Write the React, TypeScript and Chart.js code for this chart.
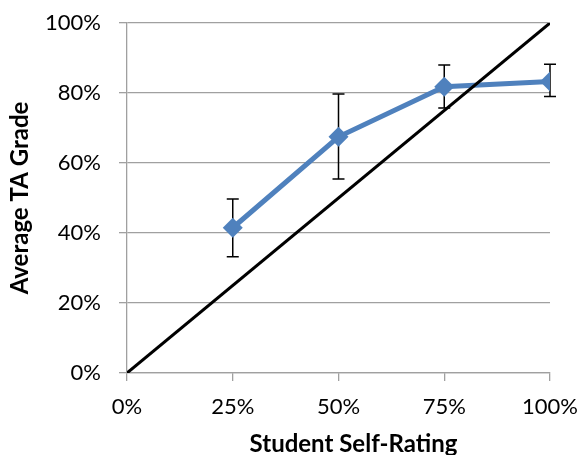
import React, { useEffect, useRef } from "react";
import { Chart, registerables } from "chart.js";

Chart.register(...registerables);

const selfRating = [0.25, 0.5, 0.75, 1.0];
const avgGrade = [0.415, 0.675, 0.818, 0.833];
const errHigh = [0.497, 0.797, 0.88, 0.882];
const errLow = [0.332, 0.554, 0.757, 0.79];
const diagonalX = [0, 1];
const diagonalY = [0, 1];
const xTicks = [0, 0.25, 0.5, 0.75, 1];
const xTitle = "Student Self-Rating";
const yTitle = "Average TA Grade";

const FONT = "Lato, 'Open Sans', sans-serif";
const GRID = "#a0a0a0";

const errorBarPlugin = {
  id: "errorBars",
  beforeDatasetsDraw(chart: any) {
    const { ctx, scales } = chart;
    const xs = scales.x;
    const ys = scales.y;
    ctx.save();
    ctx.strokeStyle = "#000";
    ctx.lineWidth = 1.5;
    selfRating.forEach((xv, i) => {
      const px = xs.getPixelForValue(xv);
      const top = ys.getPixelForValue(errHigh[i]);
      const bot = ys.getPixelForValue(errLow[i]);
      ctx.beginPath();
      ctx.moveTo(px, top);
      ctx.lineTo(px, bot);
      ctx.moveTo(px - 6, top);
      ctx.lineTo(px + 6, top);
      ctx.moveTo(px - 6, bot);
      ctx.lineTo(px + 6, bot);
      ctx.stroke();
    });
    ctx.restore();
  },
};

const titlePlugin = {
  id: "axisTitles",
  afterDraw(chart: any) {
    const { ctx, chartArea } = chart;
    ctx.save();
    ctx.fillStyle = "#000";
    ctx.font = `bold 24px ${FONT}`;
    ctx.textAlign = "center";
    ctx.textBaseline = "alphabetic";
    const cx = (chartArea.left + chartArea.right) / 2 + 15;
    ctx.fillText(xTitle, cx, 452);
    ctx.translate(28, (chartArea.top + chartArea.bottom) / 2);
    ctx.rotate(-Math.PI / 2);
    ctx.fillText(yTitle, 0, 0);
    ctx.restore();
  },
};

export default function App() {
  const ref = useRef<HTMLCanvasElement | null>(null);
  useEffect(() => {
    if (!ref.current) return;
    const chart = new Chart(ref.current, {
      type: "scatter",
      data: {
        datasets: [
          {
            label: "Diagonal",
            data: diagonalX.map((x, i) => ({ x, y: diagonalY[i] })),
            showLine: true,
            borderColor: "#000",
            borderWidth: 3,
            pointRadius: 0,
            order: 1,
          },
          {
            label: "Average TA Grade",
            data: selfRating.map((x, i) => ({ x, y: avgGrade[i] })),
            showLine: true,
            borderColor: "#4f81bd",
            backgroundColor: "#4f81bd",
            borderWidth: 5,
            pointStyle: "rectRot",
            pointRadius: 10,
            pointBorderWidth: 0,
            order: 2,
          },
        ],
      },
      options: {
        responsive: false,
        animation: false,
        layout: { padding: { top: 23, right: 31, left: 0, bottom: 0 } },
        plugins: {
          legend: { display: false },
          tooltip: { enabled: false },
        },
        scales: {
          x: {
            type: "linear",
            min: 0,
            max: 1,
            afterBuildTicks: (s: any) => {
              s.ticks = xTicks.map((v) => ({ value: v }));
            },
            afterFit: (s: any) => {
              s.height = 82;
              s.paddingLeft = 0;
              s.paddingRight = 0;
              s.paddingTop = 0;
              s.paddingBottom = 0;
            },
            ticks: {
              callback: (v: any) => Math.round(Number(v) * 100) + "%",
              color: "#000",
              font: { family: FONT, size: 22 },
              padding: 13,
              maxRotation: 0,
            },
            grid: {
              drawOnChartArea: false,
              drawTicks: true,
              tickLength: 8,
              color: GRID,
              lineWidth: 1.3,
            },
            border: { color: GRID, width: 1.3 },
          },
          y: {
            type: "linear",
            min: 0,
            max: 1,
            ticks: {
              stepSize: 0.2,
              callback: (v: any) => Math.round(Number(v) * 100) + "%",
              color: "#000",
              font: { family: FONT, size: 22 },
              padding: 18,
            },
            afterFit: (s: any) => {
              s.width = 127;
              s.paddingLeft = 0;
              s.paddingRight = 0;
              s.paddingTop = 0;
              s.paddingBottom = 0;
            },
            grid: {
              drawTicks: true,
              tickLength: 8,
              color: GRID,
              lineWidth: 1.3,
            },
            border: { color: GRID, width: 1.3 },
          },
        },
      },
      plugins: [errorBarPlugin, titlePlugin],
    } as any);
    return () => chart.destroy();
  }, []);
  return (
    <div style={{ position: "fixed", left: 0, top: 0, width: 581, height: 455, background: "#fff" }}>
      <canvas ref={ref} width={581} height={455} style={{ display: "block" }} />
    </div>
  );
}
